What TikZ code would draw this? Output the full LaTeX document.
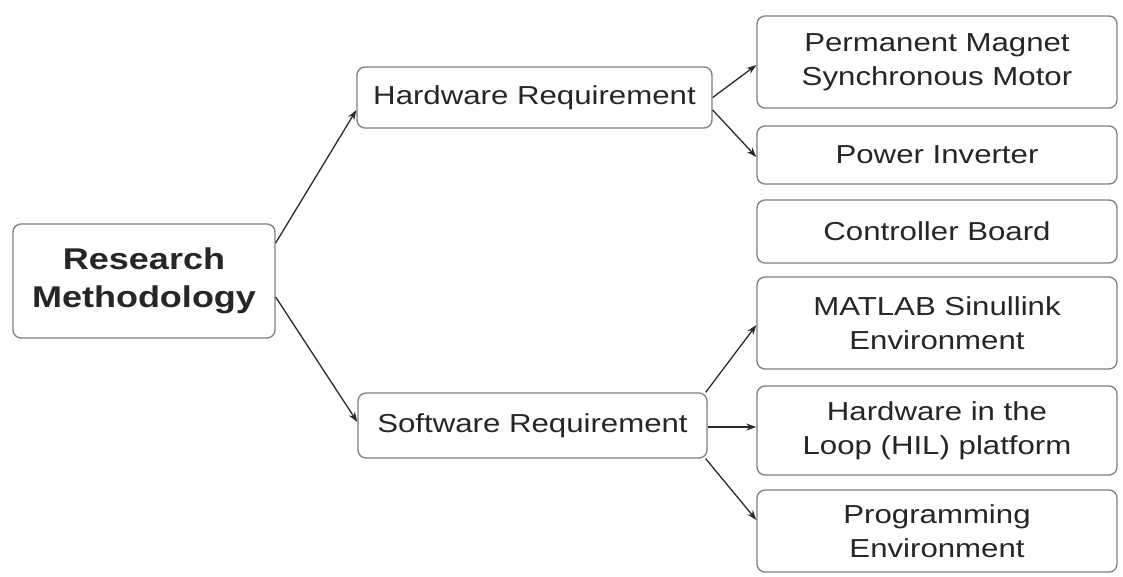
\documentclass[tikz,border=0pt]{standalone}
\usepackage{fontspec}
\setmainfont{Liberation Sans}[FakeStretch=1.2]
\usetikzlibrary{arrows.meta,calc}
\definecolor{boxline}{HTML}{7E7E7E}
\definecolor{txt}{HTML}{262626}
\definecolor{arr}{HTML}{2A2A2A}
\begin{document}
\begin{tikzpicture}[x=1pt,y=-1pt,
  box/.style={draw=boxline,line width=1.3pt,rounded corners=8pt,fill=white,
    text=txt,align=center,inner sep=0pt,
    font=\fontsize{26}{34}\selectfont},
  mainbox/.style={box,font=\bfseries\fontsize{30}{38}\selectfont},
  conn/.style={draw=arr,line width=1.3pt,-{Stealth[length=10pt,width=7pt]}}]
\useasboundingbox[fill=white] (0,0) rectangle (1123,576);

\node[mainbox,minimum width=262pt,minimum height=114pt] (rm) at (144,281) {Research\\Methodology};
\node[box,minimum width=355pt,minimum height=61pt] (hw) at (534.5,97.5) {Hardware Requirement};
\node[box,minimum width=349pt,minimum height=65pt] (sw) at (532.5,425.5) {Software Requirement};

\node[box,minimum width=360pt,minimum height=92pt] (pmsm) at (937,62) {Permanent Magnet\\Synchronous Motor};
\node[box,minimum width=360pt,minimum height=58pt] (pi) at (937,155) {Power Inverter};
\node[box,minimum width=360pt,minimum height=63pt] (cb) at (937,231.5) {Controller Board};
\node[box,minimum width=360pt,minimum height=92pt] (ml) at (937,323) {MATLAB Sinullink\\Environment};
\node[box,minimum width=360pt,minimum height=89pt] (hil) at (937,430.5) {Hardware in the\\Loop (HIL) platform};
\node[box,minimum width=360pt,minimum height=82pt] (pg) at (937,531) {Programming\\Environment};

\coordinate (swe) at ($(sw.east)+(0,1.5)$);

\draw[conn] ($(rm.east)+(0,-38)$) -- ($(hw.west)+(0,12.5)$);
\draw[conn] ($(rm.east)+(0,16)$) -- ($(sw.west)+(0,-3.5)$);
\draw[conn] (hw.east) -- ($(pmsm.west)+(0,3)$);
\draw[conn] ($(hw.east)+(0,12.5)$) -- ($(pi.west)+(0,2)$);
\draw[conn] ($(sw.north east)+(-2,0)$) -- ($(ml.west)+(0,2)$);
\draw[conn] (swe) -- (swe -| hil.west);
\draw[conn] ($(sw.south east)+(-2,0)$) -- ($(pg.west)+(0,-11)$);
\end{tikzpicture}
\end{document}
